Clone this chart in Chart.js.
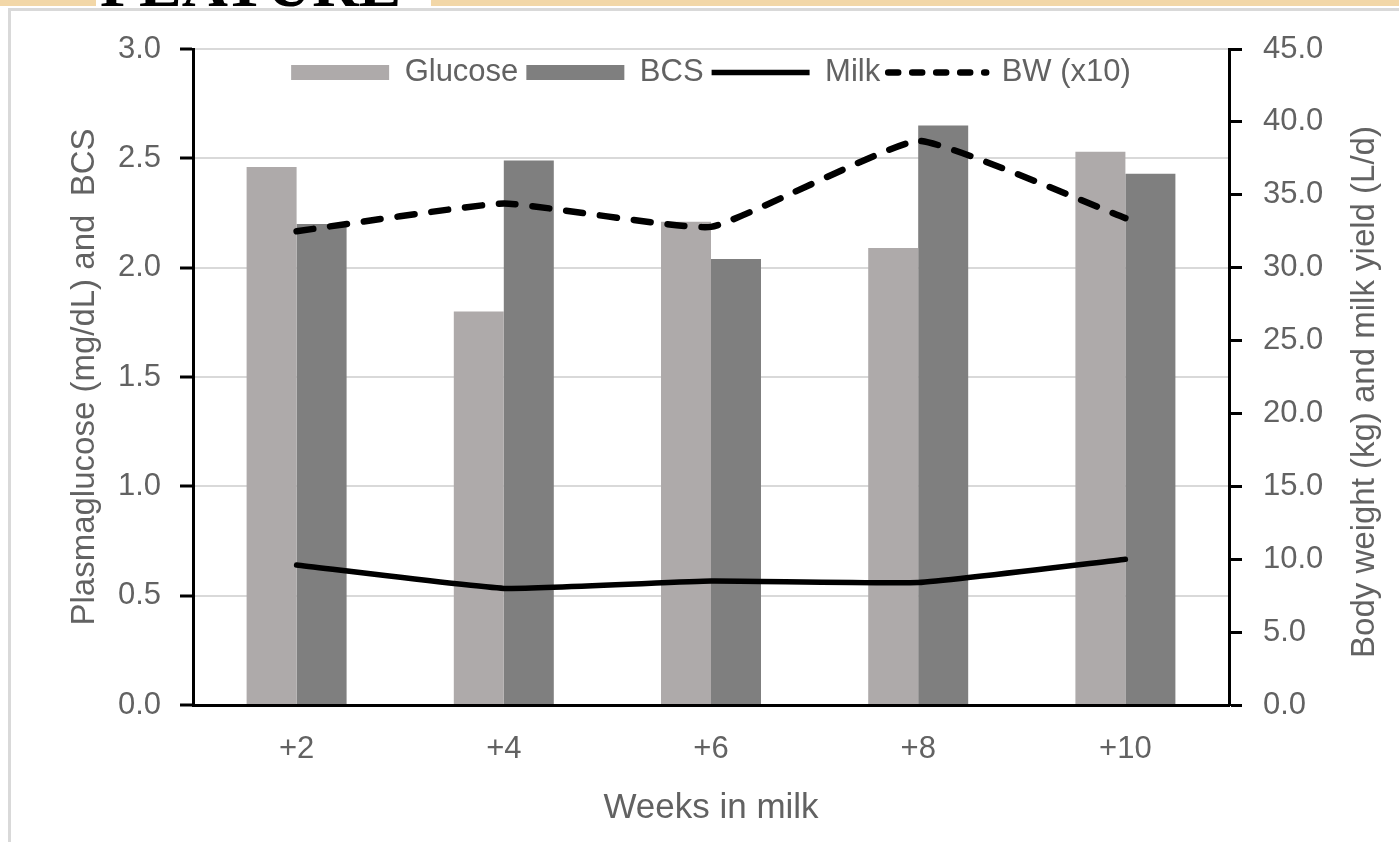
<!DOCTYPE html>
<html>
<head>
<meta charset="utf-8">
<script src="https://cdn.jsdelivr.net/npm/chart.js@4.4.1/dist/chart.umd.min.js"></script>
<style>
  html, body { margin: 0; padding: 0; background: #ffffff; width: 1399px; height: 842px; overflow: hidden; }
  .band { position: absolute; top: 0; height: 6px; background: #f2d7a8; }
  #feature { position: absolute; left: 100px; top: -47px; font: bold 64px "Liberation Serif", serif; line-height: 1; color: #000; white-space: nowrap; }
  #frame { position: absolute; left: 8px; top: 8px; width: 1500px; height: 900px; border-left: 3px solid #d9d9d9; border-top: 3px solid #d9d9d9; }
  #c { position: absolute; left: 0; top: 0; }
</style>
</head>
<body>
<div class="band" style="left:0;width:96px;"></div>
<div class="band" style="left:431px;width:968px;"></div>
<div id="feature">FEATURE</div>
<div id="frame"></div>
<canvas id="c" width="1399" height="842"></canvas>
<script>
// ---- data ----
const categories = ['+2', '+4', '+6', '+8', '+10'];
const glucose = [2.46, 1.80, 2.21, 2.09, 2.53];
const bcs = [2.20, 2.49, 2.04, 2.65, 2.43];
const milk = [9.6, 8.0, 8.5, 8.4, 10.0];
const bw = [32.5, 34.4, 32.8, 38.7, 33.4];
const leftTickLabels = ['0.0', '0.5', '1.0', '1.5', '2.0', '2.5', '3.0'];
const rightTickLabels = ['0.0', '5.0', '10.0', '15.0', '20.0', '25.0', '30.0', '35.0', '40.0', '45.0'];
const xTitle = 'Weeks in milk';
const leftTitle = 'Plasmaglucose (mg/dL) and  BCS';
const rightTitle = 'Body weight (kg) and milk yield (L/d)';

Chart.defaults.font.family = '"Liberation Sans", Arial, sans-serif';
const TXT = '#626262';
Chart.defaults.color = TXT;

const legendShift = {
  id: 'legendShift',
  afterLayout(chart) {
    const lg = chart.legend;
    const dy = chart.chartArea.top;
    lg.top += dy;
    lg.bottom += dy;
  }
};

const rightTitlePlugin = {
  id: 'rightTitle',
  afterDraw(chart) {
    const ctx = chart.ctx;
    ctx.save();
    ctx.translate(1365, 392);
    ctx.rotate(-Math.PI / 2);
    ctx.font = '33px "Liberation Sans", Arial, sans-serif';
    ctx.fillStyle = TXT;
    ctx.textAlign = 'center';
    ctx.textBaseline = 'middle';
    ctx.fillText(rightTitle, 0, 0);
    ctx.restore();
  }
};

new Chart(document.getElementById('c'), {
  type: 'bar',
  data: {
    labels: categories,
    datasets: [
      { label: 'Glucose', data: glucose, backgroundColor: '#aeaaaa', borderWidth: 0, yAxisID: 'y', order: 2, pointStyle: 'rect' },
      { label: 'BCS', data: bcs, backgroundColor: '#7f7f7f', borderWidth: 0, yAxisID: 'y', order: 2, pointStyle: 'rect' },
      { label: 'Milk', type: 'line', data: milk, borderColor: '#000', backgroundColor: '#000', borderWidth: 5.5,
        tension: 0.12, pointRadius: 0, pointStyle: 'line', yAxisID: 'y2', order: 1, borderCapStyle: 'round' },
      { label: 'BW (x10)', type: 'line', data: bw, borderColor: '#000', backgroundColor: '#000', borderWidth: 6.5,
        borderDash: [17, 17], borderCapStyle: 'round', tension: 0.12, pointRadius: 0, pointStyle: 'line', yAxisID: 'y2', order: 1 }
    ]
  },
  options: {
    responsive: false,
    animation: false,
    devicePixelRatio: 1,
    layout: { padding: 0 },
    datasets: { bar: { barPercentage: 1.0, categoryPercentage: 0.4826 } },
    plugins: {
      tooltip: { enabled: false },
      legend: {
        position: 'top',
        fullSize: false,
        labels: {
          font: { size: 31 },
          color: TXT,
          usePointStyle: true,
          pointStyleWidth: 98,
          boxHeight: 15,
          padding: 8,
          sort: (a, b) => a.datasetIndex - b.datasetIndex,
          generateLabels(chart) {
            const items = Chart.defaults.plugins.legend.labels.generateLabels(chart);
            items.forEach(it => {
              if (it.datasetIndex < 2) { it.pointStyle = 'rect'; it.lineWidth = 0; }
              else { it.pointStyle = 'line'; it.lineCap = 'butt'; }
              if (it.datasetIndex === 3) { it.lineDash = [10, 14]; it.lineCap = 'round'; }
            });
            return items;
          }
        }
      }
    },
    scales: {
      x: {
        afterFit: s => { s.height = 137; },
        grid: { display: false, drawTicks: false },
        border: { display: true, color: '#000', width: 3 },
        ticks: { font: { size: 31 }, color: TXT, padding: 26 },
        title: { display: true, text: xTitle, font: { size: 35 }, color: TXT, padding: { top: 0, bottom: 13 } }
      },
      y: {
        position: 'left',
        min: 0, max: 3,
        afterFit: s => { s.width = 193; },
        ticks: { stepSize: 0.5, font: { size: 31 }, color: TXT, padding: 19,
                 callback: (v, i) => leftTickLabels[i] },
        grid: {
          color: c => (c.tick && c.tick.value === 0) ? 'rgba(0,0,0,0)' : '#d9d9d9',
          lineWidth: 2,
          tickColor: '#000', tickWidth: 3, tickLength: 13
        },
        border: { display: true, color: '#000', width: 3 },
        title: { display: true, text: leftTitle, font: { size: 33 }, color: TXT, padding: { top: 65, bottom: 0 } }
      },
      y2: {
        position: 'right',
        min: 0, max: 45,
        afterFit: s => { s.width = 170; },
        ticks: { stepSize: 5, font: { size: 31 }, color: TXT, padding: 21,
                 callback: (v, i) => rightTickLabels[i] },
        grid: { drawOnChartArea: false, tickColor: '#000', tickWidth: 3, tickLength: 13, color: '#000' },
        border: { display: true, color: '#000', width: 3 }
      }
    }
  },
  plugins: [legendShift, rightTitlePlugin]
});
</script>
</body>
</html>
